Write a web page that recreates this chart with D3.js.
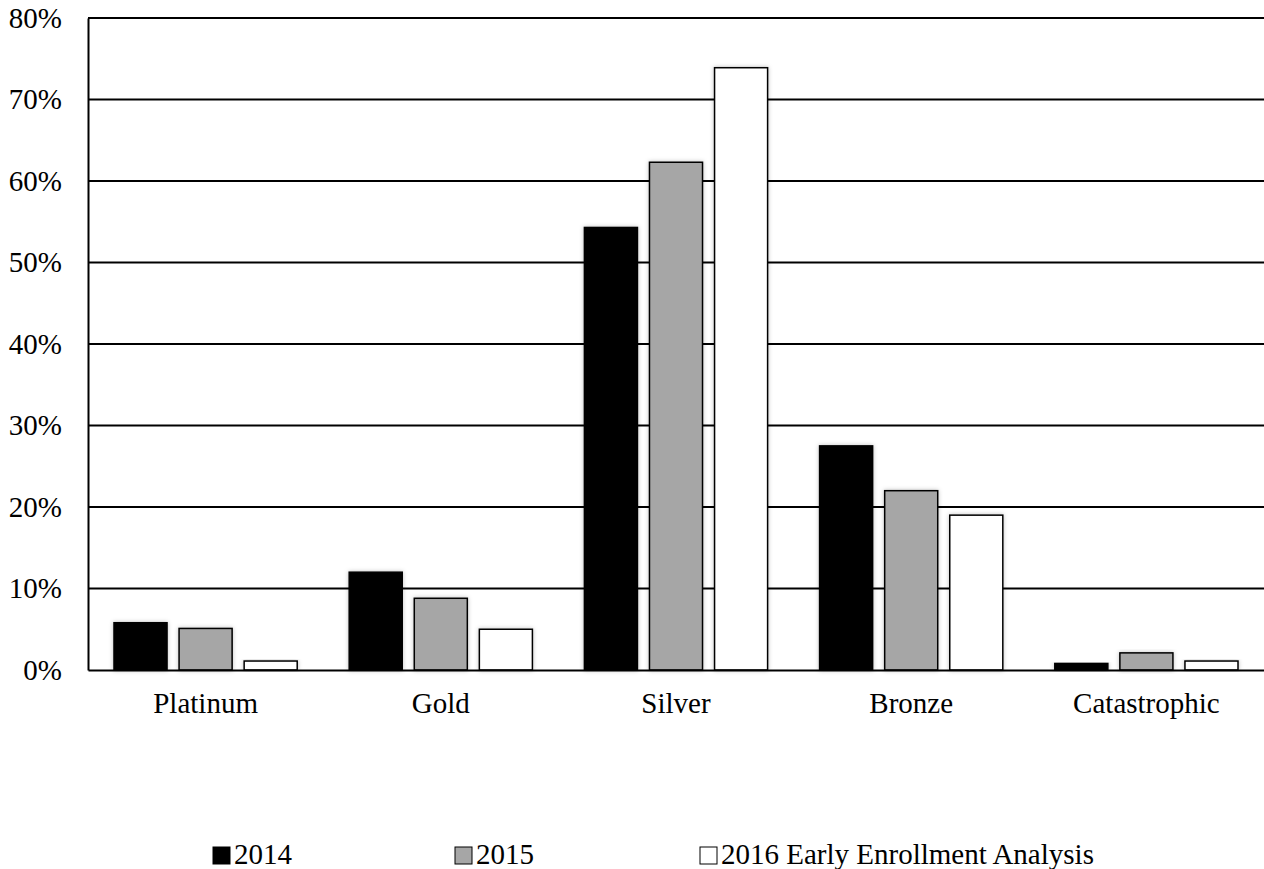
<!DOCTYPE html>
<html>
<head>
<meta charset="utf-8">
<script src="https://cdn.jsdelivr.net/npm/d3@7"></script>
<style>
  body { margin: 0; background: #fff; }
  text { font-family: "Liberation Serif", "Times New Roman", serif; }
</style>
</head>
<body>
<svg id="chart" width="1264" height="869"></svg>
<script>
// Data
var categories = ['Platinum', 'Gold', 'Silver', 'Bronze', 'Catastrophic'];
var seriesNames = ['2014', '2015', '2016 Early Enrollment Analysis'];
var values2014 = [5.8, 12.0, 54.3, 27.5, 0.8];
var values2015 = [5.1, 8.8, 62.3, 22.0, 2.1];
var values2016 = [1.1, 5.0, 73.9, 19.0, 1.1];
var yTicks = [0, 10, 20, 30, 40, 50, 60, 70, 80];
var colors = ['#000000', '#a6a6a6', '#ffffff'];

var seriesValues = [values2014, values2015, values2016];

var svg = d3.select('#chart');
var margin = {top: 18, right: 0, bottom: 199, left: 88};
var width = 1264 - margin.left - margin.right,
    height = 869 - margin.top - margin.bottom;
var fontSize = '29px';

var defs = svg.append('defs');
var shadow = defs.append('filter').attr('id', 'shadow')
    .attr('x', '-20%').attr('y', '-20%').attr('width', '140%').attr('height', '140%');
shadow.append('feDropShadow')
    .attr('dx', 0).attr('dy', 0).attr('stdDeviation', 2)
    .attr('flood-color', '#000').attr('flood-opacity', 0.25);

var g = svg.append('g')
    .attr('transform', 'translate(' + margin.left + ',' + margin.top + ')');

var x0 = d3.scaleBand().domain(categories).range([0, width]).paddingInner(0).paddingOuter(0);
var x1 = d3.scaleBand().domain(seriesNames).range([26, x0.bandwidth() - 26]).paddingInner(0.185);
var y = d3.scaleLinear().domain([0, 80]).range([height, 0]);

// gridlines
g.append('g').attr('class', 'grid')
    .selectAll('line')
    .data(yTicks.filter(d => d > 0))
    .enter().append('line')
    .attr('x1', 0).attr('x2', width)
    .attr('y1', d => y(d)).attr('y2', d => y(d))
    .attr('stroke', '#000').attr('stroke-width', 2);

// bars
var groups = g.selectAll('.cat')
    .data(categories)
    .enter().append('g')
    .attr('class', 'cat')
    .attr('transform', d => 'translate(' + x0(d) + ',0)');

groups.selectAll('rect')
    .data((d, i) => seriesNames.map((s, j) => ({series: s, value: seriesValues[j][i], idx: j})))
    .enter().append('rect')
    .attr('x', d => x1(d.series))
    .attr('width', x1.bandwidth())
    .attr('y', d => y(d.value))
    .attr('height', d => y(0) - y(d.value))
    .attr('fill', d => colors[d.idx])
    .attr('stroke', '#000')
    .attr('stroke-width', 1.5)
    .attr('filter', 'url(#shadow)');

// axes
var yAxis = g.append('g')
    .call(d3.axisLeft(y).tickValues(yTicks).tickSize(0).tickPadding(26).tickFormat(d => d + '%'));
yAxis.select('.domain').attr('stroke', '#000').attr('stroke-width', 2);
yAxis.selectAll('text')
    .attr('font-size', fontSize)
    .attr('fill', '#000')
    .attr('font-family', '"Liberation Serif", serif');

var xAxis = g.append('g')
    .attr('transform', 'translate(0,' + height + ')')
    .call(d3.axisBottom(x0).tickSize(0).tickPadding(22));
xAxis.select('.domain').attr('stroke', '#000').attr('stroke-width', 2);
xAxis.selectAll('text')
    .attr('font-size', fontSize)
    .attr('fill', '#000')
    .attr('font-family', '"Liberation Serif", serif');

// legend
var legendX = [213, 455, 700];
var legend = svg.append('g').attr('class', 'legend');
seriesNames.forEach(function (s, i) {
    var item = legend.append('g').attr('transform', 'translate(' + legendX[i] + ',864)');
    item.append('rect')
        .attr('x', 0).attr('y', -17)
        .attr('width', 17).attr('height', 17)
        .attr('fill', colors[i])
        .attr('stroke', '#000').attr('stroke-width', 1);
    item.append('text')
        .attr('x', 21).attr('y', 0)
        .attr('font-size', fontSize)
        .attr('fill', '#000')
        .text(s);
});
</script>
</body>
</html>
